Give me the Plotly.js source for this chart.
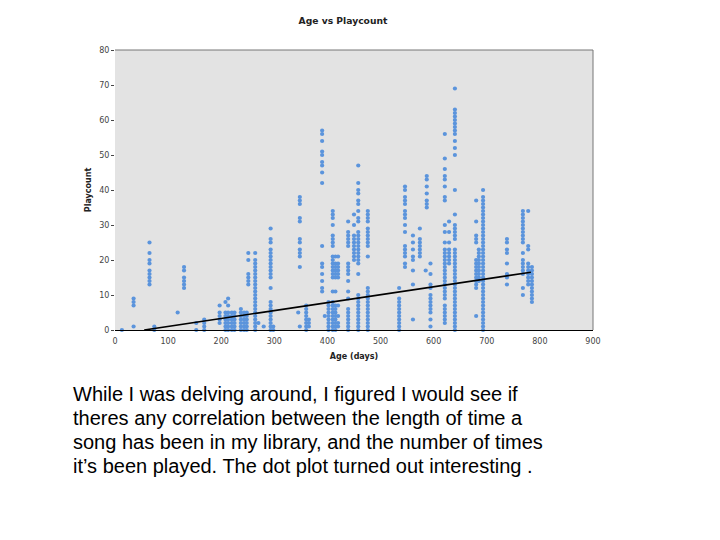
<!DOCTYPE html>
<html><head><meta charset="utf-8">
<script src="https://cdn.plot.ly/plotly-3.0.1.min.js"></script>
<style>html,body{margin:0;padding:0;background:#fff}</style></head>
<body><div id="c" style="width:720px;height:540px"></div>
<script>
const ages = [13,35,65,74,118,130,153,168,197,208,213,220,225,237,243,248,251,264,270,280,293,298,345,348,360,365,390,395,402,410,415,420,439,450,458,476,535,546,561,574,585,587,594,621,629,640,680,685,693,738,768,778,785];
const plays = [
[0],
[1,7,8,9],
[13,14,15,16,17,19,20,22,25],
[0,1],
[5],
[12,13,14,15,17,18],
[0,2],
[0,1,2,3],
[2,3,4,5,7],
[0,1,2,3,4,5,8],
[0,1,2,3,4,5,7,9],
[0,1,2,3,4,5],
[0,1,2,3,4,5],
[0,1,2,3,4,5,6],
[0,1,2,3,4,5],
[0,1,2,3,4,5],
[13,14,15,16,20,22],
[0,1,2,3,4,5,6,7,8,9,10,11,12,13,14,15,16,17,18,19,20,22],
[2],
[1],
[0,1,2,3,4,5,6,7,8,12,15,16,17,18,19,20,21,22,23,25,26,29],
[0,1],
[5],
[1,18,21,22,23,25,26,31,32,36,37,38],
[0,1,2,3,4,5,6,7],
[1,2,3],
[11,12,14,16,18,19,24,42,45,47,48,50,51,54,56,57],
[4],
[0,1,2,3,4,5,6,7,8],
[0,1,2,3,4,5,6,7,8,11,15,16,17,18,19,20,21,24,25,26,27,30,32,33,34],
[0,1,2,3,4,5,6,7,11,15,16,17,18,19,21],
[1,2,4,7,15,16,17,18,19,21],
[0,1,2,3,4,5,6,9,11,14,16,17,18,19,24,25,26,27,28,31],
[20,21,22,23,24,25,26,27,30,33],
[0,1,2,3,4,5,6,7,8,9,10,16,19,20,21,22,23,24,25,26,27,28,31,32,34,36,37,39,40,42,47],
[0,1,2,3,4,5,6,7,8,9,10,11,12,21,24,25,26,27,28,29,31,32,33,34],
[0,1,2,3,4,5,6,7,8,9,12],
[18,19,21,22,23,24,28,30,32,33,34,36,37,38,40,41],
[3,13,17,20,21,23,25,27],
[21,22,23,24,25,26,29],
[17],
[35,36,37,39,41,43,44],
[1,3,5,6,7,8,9,10,12,13,16,19],
[2,3,4,5,6,7,9,10,11,12,13,14,15,16,17,18,19,20,21,22,23,25,28,30,37,38,41,43,44,46,49,56],
[19,20,21,22,23,25,28,31],
[0,1,2,3,4,5,6,7,8,9,10,11,12,13,14,15,16,17,18,19,20,21,22,23,26,27,28,29,30,33,40,50,52,54,56,57,58,59,60,61,62,63,69],
[4,12,13,14,15,16,17,18,19,20,25,26,27,31,37],
[14,15,16,17,18,19,20,21,22,23],
[0,1,2,3,4,5,6,7,8,9,10,11,12,13,14,15,16,17,18,19,20,21,22,23,24,25,26,27,28,29,30,31,32,33,34,35,36,37,38,40],
[13,15,16,19,22,23,25,26],
[10,12,16,17,18,19,20,22,25,26,27,28,29,30,31,32,33,34],
[13,14,15,16,17,18,19,23,24,34],
[8,9,10,11,12,13,14,15,16,17,18]
];
const trendAges = [55,783];
const trendPlays = [0,16.5];
const xTicks = [0,100,200,300,400,500,600,700,800,900];
const yTicks = [0,10,20,30,40,50,60,70,80];
const captionLines = [
"While I was delving around, I figured I would see if",
"theres any correlation between the length of time a",
"song has been in my library, and the number of times",
"it’s been played. The dot plot turned out interesting ."
];
const captionY = [394,418,442,466];
const xs = [], ys = [];
ages.forEach((a,i)=>plays[i].forEach(p=>{xs.push(a);ys.push(p);}));
const tickFont = {family:'"DejaVu Sans",Verdana,sans-serif',size:8,color:'#444'};
const axisFont = {family:'"DejaVu Sans",Verdana,sans-serif',size:8,color:'#222',weight:700};
const titleFont = {family:'"DejaVu Sans",Verdana,sans-serif',size:9.2,color:'#222',weight:700};
const anns = captionLines.map((t,i)=>({text:t,xref:'paper',yref:'paper',xanchor:'left',yanchor:'middle',
  x:(71-115)/478,y:(330-captionY[i])/280,showarrow:false,align:'left',
  font:{family:'"Liberation Sans",Arial,sans-serif',size:20,color:'#000'}}));
Plotly.newPlot('c',[
 {type:'scatter',mode:'markers',x:xs,y:ys,cliponaxis:false,marker:{size:4.2,color:'#5b94dc',symbol:'circle'},hoverinfo:'x+y'},
 {type:'scatter',mode:'lines',x:trendAges,y:trendPlays,cliponaxis:false,line:{color:'#000',width:1.6},hoverinfo:'skip'}
],{
 width:720,height:540,autosize:false,showlegend:false,
 margin:{l:115,r:127,t:50,b:210,pad:0},
 paper_bgcolor:'#fff',plot_bgcolor:'#e3e3e3',
 title:{text:'Age vs Playcount',font:titleFont,x:343/720,xanchor:'center',y:1-21/540,yanchor:'middle'},
 xaxis:{range:[0,900],tickvals:xTicks,ticktext:xTicks.map(String),showgrid:false,zeroline:false,showline:true,linecolor:'#000',linewidth:1,ticks:'',tickfont:tickFont,ticklabelstandoff:3,
   title:{text:'Age (days)',font:axisFont,standoff:8}},
 yaxis:{range:[0,80],tickvals:yTicks,ticktext:yTicks.map(String),showgrid:false,zeroline:false,showline:false,ticks:'outside',ticklen:3,tickcolor:'#444',tickfont:tickFont,
   title:{text:'Playcount',font:axisFont,standoff:6}},
 shapes:[
  {type:'line',xref:'paper',yref:'paper',x0:0,x1:1,y0:1,y1:1,line:{color:'#777',width:1}},
  {type:'line',xref:'paper',yref:'paper',x0:1,x1:1,y0:0,y1:1,line:{color:'#777',width:1}}
 ],
 annotations:anns
},{displayModeBar:false,staticPlot:true});
</script></body></html>
